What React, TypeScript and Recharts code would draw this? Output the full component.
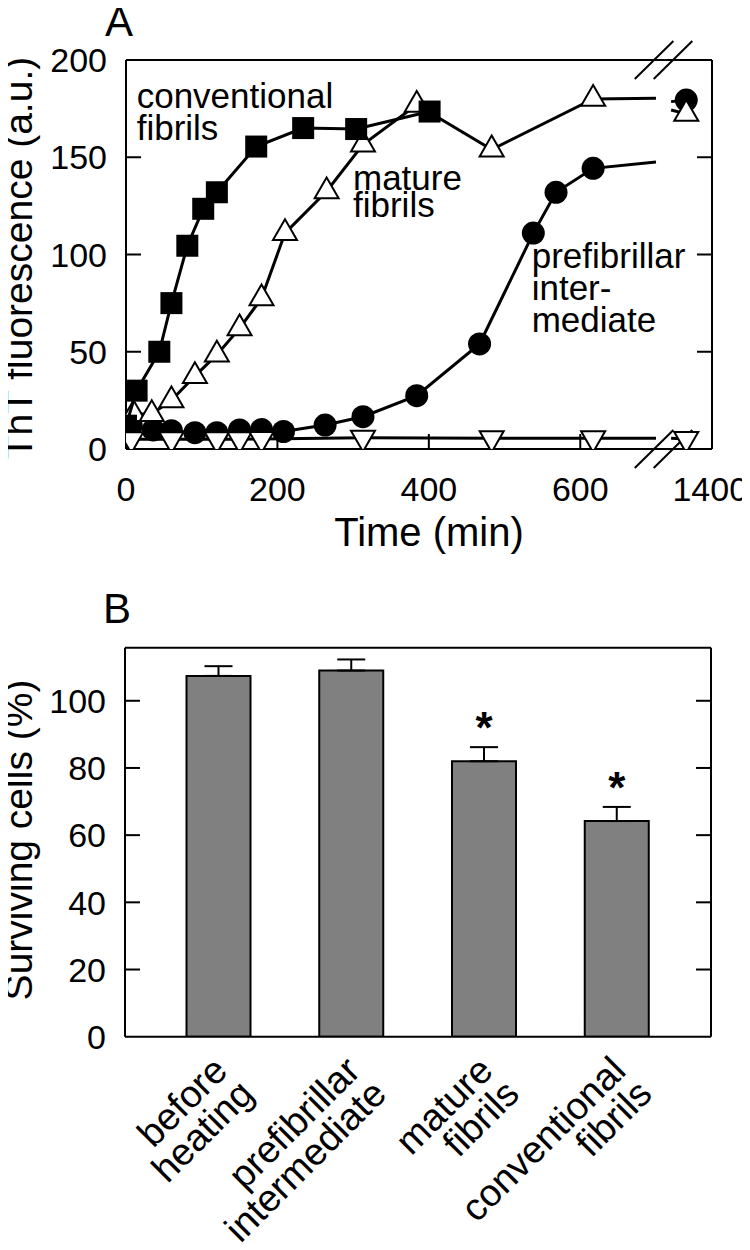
import React from 'react';
import {
  ScatterChart,
  Scatter,
  XAxis,
  YAxis,
  ReferenceLine,
  BarChart,
  Bar,
  ErrorBar,
  LabelList,
} from 'recharts';

const FONT = '"Liberation Sans", Arial, Helvetica, sans-serif';

// ---------------- Panel A: ThT fluorescence vs time ----------------
const conventionalTime = [0, 14, 44, 60, 81, 102, 120, 172, 234, 304, 401];
const conventionalThT = [12, 30, 50, 75, 104.5, 123.5, 132, 155.5, 165, 164.5, 173.5];

const matureTime = [0, 10, 34, 60, 91, 120, 150, 179, 210, 265, 313, 384, 483, 617, 1400];
const matureThT = [13, 18, 18, 25, 37.5, 48.5, 62, 77.5, 111, 132.5, 156.5, 177, 154, 180, 172.3];

const prefibTime = [7, 36, 60, 91, 120, 150, 179, 208, 263, 313, 384, 467, 538, 568, 617, 1400];
const prefibThT = [12, 9.8, 9.4, 8.4, 8.4, 9.8, 10, 9, 12.3, 16.6, 27.4, 54, 111, 132, 144.3, 179.4];

const controlTime = [7, 60, 120, 150, 179, 313, 483, 617, 1400];
const controlThT = [5, 5, 5, 5, 5.2, 5.8, 5.5, 5.5, 5.2];

// value of each curve where it meets the axis break (left edge 700 min, right edge 1380 min)
const matureBreakThT = [180.3, 174.3];
const prefibBreakThT = [147.5, 178.6];
const controlBreakThT = [5.5, 5.5];

const timeTicks = [0, 200, 400, 600, 1400];
const thtTicks = [0, 50, 100, 150, 200];

// broken time axis: [0,700] then [1380, ...]
const BREAK_START = 700;
const BREAK_END = 1380;
const BREAK_GAP = 20;
const axisPos = (t: number) => (t <= BREAK_START ? t : t - BREAK_END + BREAK_START + BREAK_GAP);
const X_MAX = 774;

type Pt = { x: number; y: number; edge?: boolean };

function segments(times: number[], vals: number[], edges?: number[]): Pt[][] {
  const before: Pt[] = [];
  const after: Pt[] = [];
  times.forEach((t, i) => {
    (t <= BREAK_START ? before : after).push({ x: axisPos(t), y: vals[i] });
  });
  if (edges) {
    before.push({ x: axisPos(BREAK_START), y: edges[0], edge: true });
    after.unshift({ x: axisPos(BREAK_END), y: edges[1], edge: true });
  }
  return [before, after];
}

const convSeg = segments(conventionalTime, conventionalThT);
const matSeg = segments(matureTime, matureThT, matureBreakThT);
const preSeg = segments(prefibTime, prefibThT, prefibBreakThT);
const ctlSeg = segments(controlTime, controlThT, controlBreakThT);

const makeShape = (kind: string) => (p: any) => {
  const { cx, cy, payload } = p;
  if (cx == null || cy == null || (payload && payload.edge)) return <g />;
  if (kind === 'square') {
    return <rect x={cx - 11} y={cy - 11} width={22} height={22} fill="#000" />;
  }
  if (kind === 'circle') {
    return <circle cx={cx} cy={cy} r={11.5} fill="#000" />;
  }
  const s = 24;
  const h = s * 0.866;
  if (kind === 'up') {
    return (
      <polygon
        points={`${cx},${cy - (2 * h) / 3} ${cx + s / 2},${cy + h / 3} ${cx - s / 2},${cy + h / 3}`}
        fill="#fff"
        stroke="#000"
        strokeWidth={2}
      />
    );
  }
  return (
    <polygon
      points={`${cx},${cy + (2 * h) / 3} ${cx + s / 2},${cy - h / 3} ${cx - s / 2},${cy - h / 3}`}
      fill="#fff"
      stroke="#000"
      strokeWidth={2}
    />
  );
};

const LINE = { stroke: '#000', strokeWidth: 3 };

const tickLabelA = (pos: number) => {
  const idx = timeTicks.findIndex((t) => axisPos(t) === pos);
  return idx >= 0 ? String(timeTicks[idx]) : '';
};

const BottomTickA = (props: any) => {
  const { x, y, payload } = props;
  const v = payload.value;
  const inner = v > 0 && v < 700;
  const label = tickLabelA(v);
  const dx = v > 700 ? 24 : 0;
  return (
    <g>
      {inner && <line x1={x} y1={y} x2={x} y2={y - 15} stroke="#000" strokeWidth={2} />}
      <text x={x + dx} y={y + 52} textAnchor="middle" fontSize={34} fontFamily={FONT} fill="#000">
        {label}
      </text>
    </g>
  );
};

const TopTickA = (props: any) => {
  const { x, y } = props;
  return <line x1={x} y1={y} x2={x} y2={y + 15} stroke="#000" strokeWidth={2} />;
};

const makeLeftTick = (lo: number, hi: number) => (props: any) => {
  const { x, y, payload } = props;
  const v = payload.value;
  return (
    <g>
      {v > lo && v < hi && <line x1={x} y1={y} x2={x + 15} y2={y} stroke="#000" strokeWidth={2} />}
      <text x={x - 19} y={y + 12.2} textAnchor="end" fontSize={34} fontFamily={FONT} fill="#000">
        {v}
      </text>
    </g>
  );
};

const makeRightTick = (lo: number, hi: number) => (props: any) => {
  const { x, y, payload } = props;
  const v = payload.value;
  if (!(v > lo && v < hi)) return <g />;
  return <line x1={x} y1={y} x2={x - 15} y2={y} stroke="#000" strokeWidth={2} />;
};

const breakMarks = [
  { x1: 672, x2: 723 },
  { x1: 697, x2: 748 },
];

const AXIS_LINE = { stroke: '#000', strokeWidth: 2 };

function PanelA() {
  return (
    <ScatterChart width={750} height={570} margin={{ top: 59, left: 66, right: 37, bottom: 61 }}>
      <XAxis
        type="number"
        dataKey="x"
        domain={[0, X_MAX]}
        allowDataOverflow
        ticks={timeTicks.map(axisPos)}
        interval={0}
        tickSize={0}
        tickMargin={0}
        tick={<BottomTickA />}
        axisLine={AXIS_LINE}
        tickLine={false}
        height={60}
      />
      <XAxis
        xAxisId="top"
        orientation="top"
        type="number"
        domain={[0, X_MAX]}
        allowDataOverflow
        ticks={[200, 400, 600]}
        interval={0}
        tickSize={0}
        tickMargin={0}
        tick={<TopTickA />}
        axisLine={AXIS_LINE}
        tickLine={false}
        height={1}
      />
      <YAxis
        type="number"
        dataKey="y"
        domain={[0, 200]}
        allowDataOverflow
        ticks={thtTicks}
        interval={0}
        tickSize={0}
        tickMargin={0}
        tick={makeLeftTick(0, 200)}
        axisLine={AXIS_LINE}
        tickLine={false}
        width={60}
      />
      <YAxis
        yAxisId="right"
        orientation="right"
        type="number"
        domain={[0, 200]}
        allowDataOverflow
        ticks={thtTicks}
        interval={0}
        tickSize={0}
        tickMargin={0}
        tick={makeRightTick(0, 200)}
        axisLine={AXIS_LINE}
        tickLine={false}
        width={1}
      />
      {breakMarks.map((m, i) => (
        <ReferenceLine
          key={'bt' + i}
          segment={[
            { x: m.x1, y: 190.2 },
            { x: m.x2, y: 209.8 },
          ]}
          ifOverflow="visible"
          stroke="#000"
          strokeWidth={2}
        />
      ))}
      {breakMarks.map((m, i) => (
        <ReferenceLine
          key={'bb' + i}
          segment={[
            { x: m.x1, y: -9.8 },
            { x: m.x2, y: 9.8 },
          ]}
          ifOverflow="visible"
          stroke="#000"
          strokeWidth={2}
        />
      ))}
      {preSeg.map((d, i) => (
        <Scatter key={'p' + i} data={d} line={LINE} lineType="joint" shape={makeShape('circle')} isAnimationActive={false} />
      ))}
      {matSeg.map((d, i) => (
        <Scatter key={'m' + i} data={d} line={LINE} lineType="joint" shape={makeShape('up')} isAnimationActive={false} />
      ))}
      {convSeg.map((d, i) =>
        d.length ? (
          <Scatter key={'c' + i} data={d} line={LINE} lineType="joint" shape={makeShape('square')} isAnimationActive={false} />
        ) : null
      )}
      {ctlSeg.map((d, i) => (
        <Scatter key={'k' + i} data={d} line={LINE} lineType="joint" shape={makeShape('down')} isAnimationActive={false} />
      ))}
      <text x={105} y={36} fontSize={42} fontFamily={FONT} fill="#000">A</text>
      <text transform="translate(32,258) rotate(-90)" textAnchor="middle" fontSize={39} fontFamily={FONT} fill="#000">
        ThT fluorescence (a.u.)
      </text>
      <text x={429} y={546} textAnchor="middle" fontSize={40} fontFamily={FONT} fill="#000">Time (min)</text>
      <g fontSize={35} fontFamily={FONT} fill="#000">
        <text x={136.7} y={108.3}>conventional</text>
        <text x={136.7} y={140}>fibrils</text>
        <text x={353} y={190}>mature</text>
        <text x={353} y={216.7}>fibrils</text>
        <text x={531.7} y={268}>prefibrillar</text>
        <text x={531.7} y={300}>inter-</text>
        <text x={531.7} y={332}>mediate</text>
      </g>
    </ScatterChart>
  );
}

// ---------------- Panel B: surviving cells ----------------
const treatments = ['before heating', 'prefibrillar intermediate', 'mature fibrils', 'conventional fibrils'];
const treatmentLines = [
  ['before', 'heating'],
  ['prefibrillar', 'intermediate'],
  ['mature', 'fibrils'],
  ['conventional', 'fibrils'],
];
const survival = [107.4, 109.0, 82.0, 64.2];
const survivalErr = [2.9, 3.3, 4.2, 4.2];
const significance = ['', '', '*', '*'];
const survivalTicks = [0, 20, 40, 60, 80, 100];

const barData = treatments.map((name, i) => ({
  name,
  value: survival[i],
  err: [0, survivalErr[i]],
  sig: significance[i],
}));

const CatTick = (props: any) => {
  const { x, y, payload } = props;
  const idx = treatments.indexOf(payload.value);
  const lines = idx >= 0 ? treatmentLines[idx] : [String(payload.value)];
  return (
    <g transform={`translate(${x},${y}) rotate(-45)`}>
      <text x={-18} y={33} textAnchor="end" fontSize={38} fontFamily={FONT} fill="#000">
        {lines[0]}
      </text>
      {lines[1] && (
        <text x={-16} y={68} textAnchor="end" fontSize={38} fontFamily={FONT} fill="#000">
          {lines[1]}
        </text>
      )}
    </g>
  );
};

const SigLabel = (props: any) => {
  const vb = props.viewBox && props.viewBox.height != null ? props.viewBox : props;
  const { x, y, width, height } = vb;
  const { value, index } = props;
  if (!value) return null;
  const pxPerUnit = height / survival[index];
  const top = y - survivalErr[index] * pxPerUnit;
  return (
    <text x={x + width / 2} y={top - 4} textAnchor="middle" fontSize={44} fontWeight="bold" fontFamily={FONT} fill="#000">
      {value}
    </text>
  );
};

function PanelB() {
  return (
    <BarChart width={750} height={682} data={barData} margin={{ top: 78.7, left: 65, right: 38, bottom: 153.3 }}>
      <XAxis
        dataKey="name"
        type="category"
        padding={{ left: 27.5, right: 27.5 }}
        interval={0}
        tickSize={0}
        tickMargin={0}
        tick={<CatTick />}
        axisLine={AXIS_LINE}
        tickLine={false}
        height={60}
      />
      <XAxis
        xAxisId="top"
        orientation="top"
        dataKey="name"
        type="category"
        tick={false}
        tickLine={false}
        axisLine={AXIS_LINE}
        height={1}
      />
      <YAxis
        type="number"
        domain={[0, 115.8]}
        allowDataOverflow
        ticks={survivalTicks}
        interval={0}
        tickSize={0}
        tickMargin={0}
        tick={makeLeftTick(0, 116)}
        axisLine={AXIS_LINE}
        tickLine={false}
        width={60}
      />
      <YAxis
        yAxisId="right"
        orientation="right"
        type="number"
        domain={[0, 115.8]}
        allowDataOverflow
        ticks={survivalTicks}
        interval={0}
        tickSize={0}
        tickMargin={0}
        tick={makeRightTick(0, 116)}
        axisLine={AXIS_LINE}
        tickLine={false}
        width={1}
      />
      <Bar dataKey="value" fill="#808080" stroke="#000" strokeWidth={2} barSize={64} isAnimationActive={false}>
        <ErrorBar dataKey="err" width={14} stroke="#000" strokeWidth={2} direction="y" />
        <LabelList dataKey="sig" content={<SigLabel />} />
      </Bar>
      <text x={103} y={55} fontSize={42} fontFamily={FONT} fill="#000">B</text>
      <text transform="translate(32,272) rotate(-90)" textAnchor="middle" fontSize={39} fontFamily={FONT} fill="#000">
        Surviving cells (%)
      </text>
    </BarChart>
  );
}

export default function App() {
  return (
    <div style={{ position: 'relative', width: 750, height: 1250, margin: -8, fontFamily: FONT, background: '#fff' }}>
      <div style={{ position: 'absolute', left: 0, top: 0 }}>
        <PanelA />
      </div>
      <div style={{ position: 'absolute', left: 0, top: 568 }}>
        <PanelB />
      </div>
    </div>
  );
}
